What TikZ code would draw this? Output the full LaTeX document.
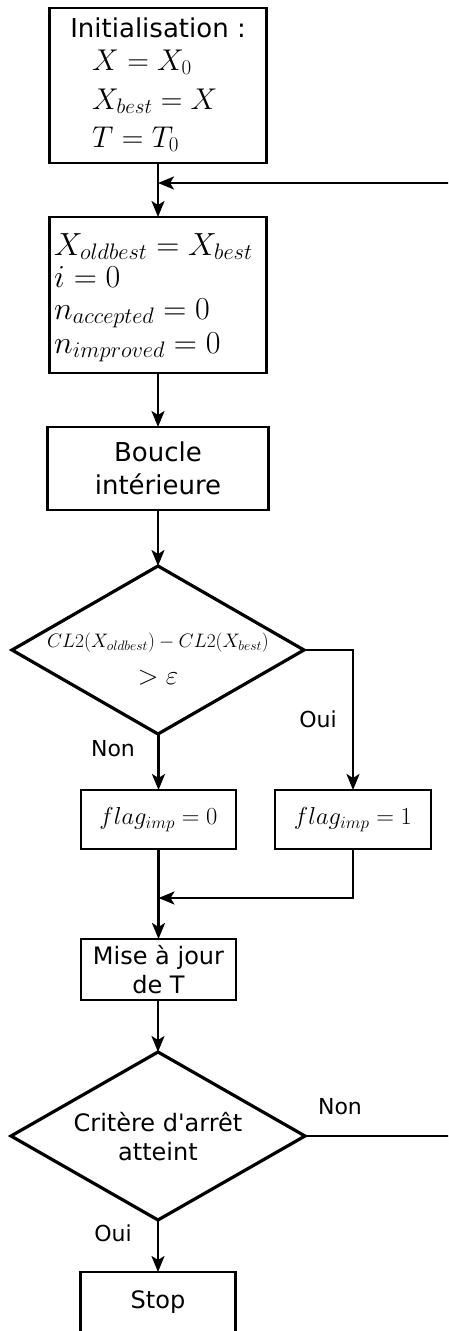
\documentclass[tikz,border=0pt]{standalone}
\usepackage{fix-cm}
\usepackage{fontspec}
\setmainfont{DejaVu Sans}
\usetikzlibrary{shapes.geometric,arrows.meta}
\tikzset{
  box/.style={draw, line width=2.2pt, rectangle, inner sep=0pt, outer sep=0pt},
  decision/.style={draw, line width=3.2pt, diamond, inner sep=0pt, outer sep=0pt},
  conn/.style={line width=2.5pt, -{Stealth[length=16pt,width=13pt,inset=4pt]}},
  txt/.style={inner sep=0pt, align=center},
  lbl/.style={inner sep=0pt, font=\fontsize{22}{26}\selectfont},
  mathl/.style={inner sep=0pt, anchor=base west},
}
\begin{document}
\begin{tikzpicture}[x=1pt,y=-1pt]
\clip (0,0) rectangle (448,1331);
\fill[white] (0,0) rectangle (448,1331);
% boxes
\node[box, minimum width=217pt, minimum height=155pt] (init) at (158,85.5) {};
\node[txt, font=\fontsize{26}{31}\selectfont] (initT) at (158,28) {Initialisation :};
\node[mathl, font=\fontsize{30}{36}\selectfont] (l1) at (92,70) {$X = X_0$};
\node[mathl, font=\fontsize{30}{36}\selectfont] (l2) at (92,109) {$X_{best} = X$};
\node[mathl, font=\fontsize{30}{36}\selectfont] (l3) at (92,147) {$T = T_0$};

\node[box, minimum width=217pt, minimum height=156pt] (reset) at (158,295) {};
\node[mathl, font=\fontsize{32}{36}\selectfont] (r1) at (54,255) {$X_{oldbest} = X_{best}$};
\node[mathl, font=\fontsize{32}{36}\selectfont] (r2) at (54,287) {$i = 0$};
\node[mathl, font=\fontsize{32}{36}\selectfont] (r3) at (54,319) {$n_{accepted} = 0$};
\node[mathl, font=\fontsize{32}{36}\selectfont] (r4) at (54,353) {$n_{improved} = 0$};

\node[box, minimum width=221pt, minimum height=83pt, txt, font=\fontsize{26}{33}\selectfont] (boucle) at (158,468.5) {Boucle\\intérieure};

\node[decision, minimum width=292pt, minimum height=168pt] (d1) at (158,650) {};
\node[inner sep=0pt, font=\fontsize{19.5}{22}\selectfont] (d1a) at (158,643) {$CL2(X_{oldbest}) - CL2(X_{best})$};
\node[inner sep=0pt, font=\fontsize{27}{32}\selectfont] (d1b) at (158,678) {$> \varepsilon$};

\node[box, minimum width=155pt, minimum height=59pt, font=\fontsize{24.5}{29}\selectfont] (f0) at (158.5,819.5) {$flag_{imp} = 0$};
\node[box, minimum width=156pt, minimum height=59pt, font=\fontsize{24.5}{29}\selectfont] (f1) at (353,819.5) {$flag_{imp} = 1$};

\node[box, minimum width=155pt, minimum height=61pt, txt, font=\fontsize{24}{29}\selectfont] (maj) at (158.5,969.5) {Mise à jour\\de T};

\node[decision, minimum width=294pt, minimum height=168pt] (d2) at (158,1136) {};
\node[txt, font=\fontsize{24}{29}\selectfont] (d2t) at (158,1137) {Critère d\textquotesingle arrêt\\atteint};

\node[box, minimum width=155pt, minimum height=70pt] (stop) at (158,1307) {};
\node[txt, font=\fontsize{24}{29}\selectfont] (stopT) at (158,1302) {Stop};

% junction coordinates
\coordinate (j1) at (158,183);
\coordinate (j2) at (158.5,898);
\coordinate (far) at (470,0);

% connectors
\draw[conn] (init.south) -- (reset.north);
\draw[conn] (reset.south) -- (boucle.north);
\draw[conn] (boucle.south) -- (d1.north);
\draw[conn] (d1.south -| f0.north) -- (f0.north);
\draw[conn] (d1.east) -| (f1.north);
\draw[conn] (f0.south) -- (maj.north);
\draw[conn] (f1.south) |- (j2);
\draw[conn] (maj.south -| d2.north) -- (d2.north);
\draw[conn] (d2.south) -- (stop.north);
\draw[conn] (d2.east) -- (far |- d2.east) -- (far |- j1) -- (j1);
% labels
\node[lbl] (non1) at (113,749) {Non};
\node[lbl] (oui1) at (318,719) {Oui};
\node[lbl] (oui2) at (113,1233) {Oui};
\node[lbl] (non2) at (340,1107) {Non};
\end{tikzpicture}
\end{document}
